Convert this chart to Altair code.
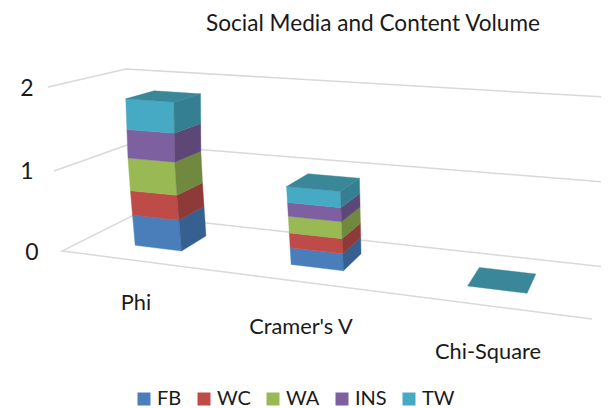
import numpy as np
import pandas as pd
import altair as alt

# --- chart values ---
CATEGORIES = ["Phi", "Cramer's V", "Chi-Square"]
SERIES = ["FB", "WC", "WA", "INS", "TW"]
FB = [0.385, 0.20, 0.0]
WC = [0.31, 0.178, 0.0]
WA = [0.41, 0.20, 0.0]
INS = [0.348, 0.166, 0.0]
TW = [0.373, 0.19, 0.0]
VALUE_TICKS = [0, 1, 2]
TITLE = "Social Media and Content Volume"

# --- styles ---
FRONT = ["#4A7EBB", "#BE4B48", "#98B954", "#7D60A0", "#46AAC4"]
SIDE = ["#36608F", "#8E3A38", "#71893F", "#5C4776", "#357F92"]
TOP = "#3A8799"
GRID = "#D9D9D9"
FONT = "Lato"
TEXT = "#1a1a1a"

# --- 3D view: for each value plane, the page position of the four corners
#     (category 0 / 3, depth 0 / 1); positions in between come from a homography
PLANES = {
    0: [(62, 251), (592, 319), (134, 215), (605, 267)],
    1: [(54, 171), (603, 224), (130, 144), (617, 183)],
    2: [(48, 87), (615, 126), (126, 69), (629, 98.5)],
}
CORNERS = [(0, 0), (3, 0), (0, 1), (3, 1)]


def homography(pts):
    rows, rhs = [], []
    for (u, d), (x, y) in zip(CORNERS, pts):
        rows.append([u, d, 1, 0, 0, 0, -x * u, -x * d]); rhs.append(x)
        rows.append([0, 0, 0, u, d, 1, -y * u, -y * d]); rhs.append(y)
    return np.append(np.linalg.solve(np.array(rows, float), np.array(rhs, float)), 1).reshape(3, 3)


HOMOG = {v: homography(p) for v, p in PLANES.items()}


def on_plane(v, u, d):
    p = HOMOG[v] @ np.array([u, d, 1.0])
    return p[:2] / p[2]


def project(u, d, v):
    lo = 0 if v <= 1 else 1
    t = v - lo
    q = (1 - t) * on_plane(lo, u, d) + t * on_plane(lo + 1, u, d)
    return float(q[0]), float(q[1])


BAR_MARGIN = 0.345
DEPTH = (0.30, 0.69)

gridrows = []
for v in VALUE_TICKS:
    pts = [(0, 0), (0, 1), (3, 1)]
    if v == 0:
        pts = [(3, 0), (0, 0), (0, 1), (3, 1)]
    for i, (u, d) in enumerate(pts):
        x, y = project(u, d, v)
        gridrows.append({"line": v, "i": i, "x": x, "y": y})
grid_df = pd.DataFrame(gridrows)

values = [FB, WC, WA, INS, TW]
faces = {"front": [], "side": [], "top": []}


def add(kind, fid, corners, **extra):
    for i, c in enumerate(corners + corners[:1]):
        x, y = project(*c)
        faces[kind].append({"face": fid, "i": i, "x": x, "y": y, **extra})


for c, cat in enumerate(CATEGORIES):
    u0, u1 = c + BAR_MARGIN, c + 1 - BAR_MARGIN - 0.0
    d0, d1 = DEPTH
    base = 0.0
    for s, name in enumerate(SERIES):
        top = base + values[s][c]
        if values[s][c] > 0:
            add("front", f"f{c}{s}", [(u0, d0, base), (u1, d0, base), (u1, d0, top), (u0, d0, top)], series=name)
            add("side", f"s{c}{s}", [(u1, d0, base), (u1, d1, base), (u1, d1, top), (u1, d0, top)], shade=SIDE[s])
        base = top
    add("top", f"t{c}", [(u0, d0, base), (u1, d0, base), (u1, d1, base), (u0, d1, base)], shade=TOP)

WIDTH, HEIGHT = 593, 400
XS = alt.Scale(domain=[8, 8 + WIDTH], nice=False, zero=False)
YS = alt.Scale(domain=[8 + HEIGHT, 8], nice=False, zero=False)
X = alt.X("x:Q", scale=XS, axis=None)
Y = alt.Y("y:Q", scale=YS, axis=None)

grid = alt.Chart(grid_df).mark_line(color=GRID, strokeWidth=1.5, clip=True).encode(
    x=X, y=Y, detail="line:N", order="i:Q")

front = alt.Chart(pd.DataFrame(faces["front"])).mark_line(strokeWidth=0.4).encode(
    x=X, y=Y, detail="face:N", order="i:Q",
    fill=alt.Fill("series:N", scale=alt.Scale(domain=SERIES, range=FRONT), sort=SERIES,
                  legend=alt.Legend(title=None, orient="none", legendX=126, legendY=381, direction="horizontal",
                                    columns=5, symbolType="square", symbolSize=169, symbolStrokeWidth=0,
                                    labelFont=FONT, labelFontSize=20, labelColor=TEXT, columnPadding=12,
                                    labelOffset=3)),
    stroke=alt.Stroke("series:N", scale=alt.Scale(domain=SERIES, range=FRONT), legend=None),
)
side = alt.Chart(pd.DataFrame(faces["side"])).mark_line(strokeWidth=0.4).encode(
    x=X, y=Y, detail="face:N", order="i:Q",
    fill=alt.Fill("shade:N", scale=None), stroke=alt.Stroke("shade:N", scale=None))
top = alt.Chart(pd.DataFrame(faces["top"])).mark_line(strokeWidth=0.4).encode(
    x=X, y=Y, detail="face:N", order="i:Q",
    fill=alt.Fill("shade:N", scale=None), stroke=alt.Stroke("shade:N", scale=None))

TICK_POS = {0: (32, 253), 1: (27, 172), 2: (27, 89)}
CAT_POS = {"Phi": (136, 303), "Cramer's V": (301, 327), "Chi-Square": (488, 352)}
TITLE_POS = (373, 24)
tick_df = pd.DataFrame([{"t": str(v), "x": TICK_POS[v][0], "y": TICK_POS[v][1]} for v in VALUE_TICKS])
cat_df = pd.DataFrame([{"t": c, "x": CAT_POS[c][0], "y": CAT_POS[c][1]} for c in CATEGORIES])
title_df = pd.DataFrame([{"t": TITLE, "x": TITLE_POS[0], "y": TITLE_POS[1]}])
tick_text = alt.Chart(tick_df).mark_text(font=FONT, fontSize=23, color=TEXT).encode(x=X, y=Y, text="t:N")
cat_text = alt.Chart(cat_df).mark_text(font=FONT, fontSize=21.8, color=TEXT).encode(x=X, y=Y, text="t:N")
title_text = alt.Chart(title_df).mark_text(font=FONT, fontSize=22.6, color=TEXT).encode(x=X, y=Y, text="t:N")

chart = alt.layer(grid, front, side, top, tick_text, cat_text, title_text).resolve_scale(
    fill="independent", stroke="independent").properties(
    width=WIDTH, height=HEIGHT, padding=0, background="white",
    autosize=alt.AutoSizeParams(type="none"),
).configure_view(stroke=None)

chart.save("out.html", embed_options={"renderer": "svg", "actions": False})
